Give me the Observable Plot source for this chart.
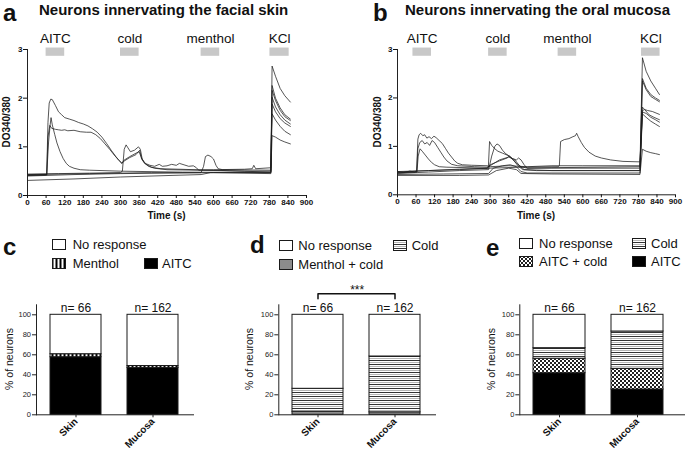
<!DOCTYPE html>
<html><head><meta charset="utf-8">
<script src="https://cdn.jsdelivr.net/npm/d3@7"></script>
<script src="https://cdn.jsdelivr.net/npm/@observablehq/plot@0.6"></script>
<style>
body{margin:0;background:#fff;font-family:"Liberation Sans",Arial,sans-serif;color:#111;}
#fig{position:relative;width:685px;height:456px;overflow:hidden;background:#fff;}
.abs{position:absolute;white-space:nowrap;line-height:1;}
.letter{font-weight:bold;font-size:24px;}
.title{font-weight:bold;font-size:15px;}
.leg{font-size:13px;}
.rot{transform:translate(-50%,-50%) rotate(-90deg);}
.panel{position:absolute;}
</style></head><body>
<svg width="0" height="0" style="position:absolute"><defs>
<pattern id="pMenthol" patternUnits="userSpaceOnUse" width="4" height="4"><rect width="4" height="4" fill="#000"/><rect x="1.5" width="2" height="4" fill="#fff"/></pattern>
<pattern id="pCold" patternUnits="userSpaceOnUse" width="4" height="4"><rect width="4" height="4" fill="#fff"/><rect y="0" width="4" height="1" fill="#333"/><rect y="2" width="4" height="1" fill="#b5b5b5"/></pattern>
<pattern id="pCheck" patternUnits="userSpaceOnUse" width="4" height="4"><rect width="4" height="4" fill="#fff"/><rect width="2" height="2" fill="#222"/><rect x="2" y="2" width="2" height="2" fill="#222"/></pattern>
</defs></svg>
<div id="fig"></div>
<script>
// ---------- data ----------
const timeTicks = [0,60,120,180,240,300,360,420,480,540,600,660,720,780,840,900];
const ratioTicks = [0,1,2,3];
const pctTicks = [0,20,40,60,80,100];
const stimNames = ["AITC","cold","menthol","KCl"];
const skinStimStart = [60,300,560,782];
const skinStimEnd = [120,360,620,844];
const mucosaStimStart = [50,295,520,790];
const mucosaStimEnd = [110,355,580,850];

// Panel a traces [time (s), ratio]
const skinTrace1 = [[0,0.42],[30,0.42],[62,0.43],[66,1.5],[70,1.9],[75,1.98],[80,1.97],[90,1.85],[100,1.72],[110,1.66],[120,1.6],[135,1.57],[150,1.54],[165,1.5],[180,1.47],[195,1.43],[210,1.37],[225,1.3],[240,1.2],[255,1.07],[270,0.93],[285,0.8],[298,0.7],[305,0.66],[310,0.72],[330,0.8],[350,0.87],[360,0.9],[366,0.8],[375,0.68],[390,0.6],[410,0.56],[450,0.53],[550,0.52],[700,0.5],[785,0.5],[789,2.66],[800,2.45],[815,2.2],[830,2.05],[848,1.92]];
const skinTrace2 = [[0,0.41],[62,0.42],[66,1.2],[72,1.44],[78,1.38],[90,1.36],[100,1.35],[110,1.34],[120,1.35],[130,1.33],[150,1.34],[170,1.31],[190,1.3],[205,1.3],[220,1.25],[235,1.17],[250,1.06],[265,0.95],[280,0.83],[295,0.72],[305,0.66],[310,0.7],[330,0.78],[350,0.84],[362,0.93],[368,0.75],[380,0.65],[400,0.58],[430,0.55],[600,0.52],[785,0.48],[789,2.26],[800,2.0],[815,1.8],[830,1.66],[848,1.57]];
const skinTrace3 = [[0,0.42],[62,0.43],[68,1.1],[73,1.45],[76,1.6],[80,1.45],[88,1.25],[95,1.08],[105,0.9],[115,0.76],[125,0.66],[135,0.6],[150,0.56],[170,0.53],[200,0.52],[300,0.5],[500,0.48],[785,0.47],[789,2.16],[800,1.95],[815,1.75],[830,1.62],[848,1.54]];
const skinTrace4 = [[0,0.44],[100,0.45],[200,0.46],[300,0.47],[306,0.5],[312,0.95],[318,1.04],[324,0.98],[332,0.9],[345,0.93],[358,1.0],[364,0.95],[370,0.75],[380,0.66],[395,0.62],[410,0.6],[425,0.64],[435,0.6],[450,0.61],[465,0.64],[480,0.62],[490,0.66],[505,0.63],[520,0.6],[535,0.61],[545,0.57],[552,0.52],[600,0.53],[700,0.54],[725,0.55],[730,0.62],[736,0.55],[785,0.57],[789,2.02],[800,1.82],[815,1.66],[830,1.55],[848,1.47]];
const skinTrace5 = [[0,0.43],[200,0.45],[400,0.47],[560,0.47],[568,0.6],[574,0.8],[582,0.83],[592,0.8],[600,0.75],[608,0.62],[615,0.55],[630,0.53],[785,0.52],[789,1.88],[800,1.72],[815,1.58],[830,1.49],[848,1.42]];
const skinTrace6 = [[0,0.4],[150,0.43],[300,0.45],[450,0.46],[600,0.47],[785,0.45],[789,1.68],[800,1.55],[815,1.42],[830,1.32],[848,1.25]];
const skinTrace7 = [[0,0.31],[150,0.34],[300,0.38],[450,0.41],[560,0.43],[590,0.47],[785,0.47],[789,1.23],[800,1.2],[815,1.14],[830,1.1],[848,1.06]];

// Panel b traces
const mucosaTrace1 = [[0,0.48],[20,0.46],[40,0.49],[55,0.47],[62,0.5],[66,1.15],[70,1.24],[75,1.27],[82,1.22],[88,1.24],[95,1.17],[102,1.2],[110,1.16],[118,1.21],[125,1.18],[135,1.12],[145,1.06],[155,0.96],[165,0.86],[175,0.78],[185,0.7],[195,0.65],[210,0.62],[240,0.61],[290,0.6],[300,0.58],[360,0.6],[420,0.58],[500,0.6],[600,0.6],[785,0.6],[793,2.83],[805,2.55],[820,2.35],[835,2.2],[848,2.07]];
const mucosaTrace2 = [[0,0.45],[62,0.47],[66,0.95],[72,1.08],[80,1.12],[88,1.05],[96,1.08],[104,1.02],[112,1.12],[120,1.08],[130,0.98],[140,0.88],[150,0.78],[160,0.7],[175,0.63],[195,0.6],[250,0.58],[290,0.57],[300,0.6],[330,0.72],[360,0.78],[380,0.72],[395,0.6],[410,0.52],[500,0.5],[785,0.5],[793,2.4],[805,2.2],[820,2.07],[835,2.0],[848,1.95]];
const mucosaTrace3 = [[0,0.46],[63,0.47],[67,0.8],[73,0.95],[80,0.9],[90,0.82],[100,0.74],[110,0.67],[120,0.62],[135,0.58],[160,0.57],[290,0.55],[300,0.62],[330,0.7],[355,0.76],[362,0.8],[372,0.75],[385,0.72],[392,0.76],[400,0.72],[410,0.62],[420,0.55],[500,0.55],[785,0.55],[793,2.35],[805,2.17],[820,2.03],[835,1.97],[848,1.92]];
const mucosaTrace4 = [[0,0.47],[100,0.5],[200,0.53],[294,0.55],[298,1.1],[305,1.02],[315,0.95],[325,0.9],[340,0.86],[355,0.82],[365,0.78],[375,0.72],[385,0.65],[400,0.58],[420,0.55],[500,0.56],[785,0.58],[793,1.81],[800,1.76],[810,1.74],[825,1.72],[848,1.66]];
const mucosaTrace5 = [[0,0.44],[100,0.47],[200,0.5],[295,0.52],[305,0.8],[315,1.0],[322,1.05],[330,1.02],[340,0.92],[350,0.85],[362,0.8],[375,0.72],[390,0.6],[405,0.52],[450,0.5],[785,0.5],[793,1.74],[800,1.76],[815,1.65],[830,1.6],[848,1.55]];
const mucosaTrace6 = [[0,0.48],[100,0.5],[200,0.52],[300,0.55],[400,0.57],[520,0.58],[524,0.6],[528,1.1],[540,1.14],[555,1.16],[568,1.2],[576,1.22],[580,1.27],[585,1.2],[595,1.08],[605,0.98],[620,0.88],[640,0.8],[660,0.76],[690,0.72],[730,0.69],[785,0.68],[793,1.71],[805,1.68],[820,1.6],[835,1.55],[848,1.5]];
const mucosaTrace7 = [[0,0.42],[150,0.43],[295,0.44],[310,0.55],[340,0.6],[365,0.62],[385,0.58],[400,0.48],[420,0.45],[785,0.45],[793,1.67],[805,1.6],[820,1.52],[835,1.46],[848,1.41]];
const mucosaTrace8 = [[0,0.4],[200,0.4],[295,0.41],[320,0.5],[360,0.55],[385,0.52],[400,0.44],[500,0.43],[785,0.42],[793,0.94],[805,0.9],[820,0.87],[835,0.85],[848,0.83]];

// Bar panels (% of neurons)
const regions = ["Skin","Mucosa"];
const nNeurons = [66,162];
const cCategories = ["AITC","Menthol","No response"];
const cSkin = [57.6,3.0,39.4];
const cMucosa = [46.9,1.9,51.2];
const dCategories = ["Menthol + cold","Cold","No response"];
const dSkin = [3.0,23.0,74.0];
const dMucosa = [2.5,55.8,41.7];
const eCategories = ["AITC","AITC + cold","Cold","No response"];
const eSkin = [41.6,14.5,10.5,33.4];
const eMucosa = [25.3,20.7,37.3,16.7];
const significance = "***";

// ---------- styles ----------
const FONT = '"Liberation Sans", Arial, sans-serif';
const catFill = {
  "No response": "#fff",
  "AITC": "#000",
  "Menthol": "url(#pMenthol)",
  "Cold": "url(#pCold)",
  "Menthol + cold": "#8c8c8c",
  "AITC + cold": "url(#pCheck)"
};

const fig = document.getElementById("fig");
function place(el, left, top) {
  el.classList.add("panel");
  el.style.left = left + "px";
  el.style.top = top + "px";
  fig.appendChild(el);
}
function label(text, left, top, cls, extra) {
  const d = document.createElement("div");
  d.className = "abs " + (cls || "");
  d.textContent = text;
  d.style.left = left + "px";
  d.style.top = top + "px";
  if (extra) Object.assign(d.style, extra);
  fig.appendChild(d);
  return d;
}

function tracePlot(traces, stimStart, stimEnd, width, mLeft, mRight, mBottom) {
  const rows = traces.flatMap((tr, i) => tr.map(([t, v]) => ({id: i, t, v})));
  const stim = stimNames.map((name, i) => ({name, start: stimStart[i], end: stimEnd[i]}));
  return Plot.plot({
    width, height: 220,
    marginLeft: mLeft, marginRight: mRight, marginTop: 49, marginBottom: mBottom,
    style: {fontFamily: FONT, background: "transparent", overflow: "visible", color: "#111"},
    x: {domain: [0, 900]},
    y: {domain: [0, 3]},
    marks: [
      Plot.rect(stim, {x1: "start", x2: "end", y1: 2.86, y2: 3.03, fill: "#c8c8c8"}),
      Plot.text(stim, {x: d => (d.start + d.end) / 2, y: 3.13, text: "name", lineAnchor: "bottom", fontSize: 13.5, fill: "#111"}),
      Plot.line(rows, {x: "t", y: "v", z: "id", stroke: "#1e1e1e", strokeWidth: 0.75}),
      Plot.ruleX([0], {stroke: "#222", strokeWidth: 1}),
      Plot.ruleY([0], {stroke: "#222", strokeWidth: 1}),
      Plot.axisX({ticks: timeTicks, tickFormat: d3.format("d"), tickSize: 3, tickPadding: 1, fontSize: 8, fontWeight: "bold", label: null}),
      Plot.axisY({ticks: ratioTicks, tickFormat: d3.format("d"), tickSize: 4, tickPadding: 1, fontSize: 8, fontWeight: "bold", label: null})
    ]
  });
}

function barPlot(cats, skinVals, mucosaVals, width, mLeft, mRight, align, extra) {
  const rows = [];
  regions.forEach((r, j) => cats.forEach((c, i) => rows.push({region: r, cat: c, pct: (j ? mucosaVals : skinVals)[i]})));
  const nRows = regions.map((r, i) => ({region: r, n: nNeurons[i]}));
  return Plot.plot({
    width, height: 236,
    marginLeft: mLeft, marginRight: mRight, marginTop: 84.3, marginBottom: 41.7,
    style: {fontFamily: FONT, background: "transparent", overflow: "visible", color: "#222"},
    x: {type: "band", domain: regions, paddingInner: 0.333, paddingOuter: align == null ? 0.173 : 0.222, align: align == null ? 0.5 : align},
    y: {domain: [0, 110]},
    color: {type: "identity"},
    marks: [
      Plot.barY(rows, {x: "region", y: "pct", z: "cat", fill: d => catFill[d.cat], stroke: "#1a1a1a", strokeWidth: 1}),
      Plot.text(nRows, {x: "region", y: 100, text: d => "n= " + d.n, lineAnchor: "bottom", dy: -3, fontSize: 12, fill: "#111"}),
      Plot.frame({anchor: "left", stroke: "#222"}),
      Plot.frame({anchor: "bottom", stroke: "#222"}),
      Plot.axisY({ticks: pctTicks, tickFormat: d3.format("d"), tickSize: 4, tickPadding: 1.5, fontSize: 7.5, label: null}),
      Plot.axisX({tickSize: 3, tickPadding: 2, tickRotate: -45, fontSize: 10, fontWeight: "bold", label: null, fill: "#111"}),
      ...(extra || [])
    ]
  });
}

// ---------- panels a & b ----------
place(tracePlot([skinTrace1, skinTrace2, skinTrace3, skinTrace4, skinTrace5, skinTrace6, skinTrace7],
  skinStimStart, skinStimEnd, 340, 27, 34, 25), 0, 0);
place(tracePlot([mucosaTrace1, mucosaTrace2, mucosaTrace3, mucosaTrace4, mucosaTrace5, mucosaTrace6, mucosaTrace7, mucosaTrace8],
  mucosaStimStart, mucosaStimEnd, 345, 57, 10, 25.7), 340, 0);

// ---------- panels c, d, e ----------
place(barPlot(cCategories, cSkin, cMucosa, 230, 36, 37), 0, 220);
const bracket = [{region: "Skin", y: 116}, {region: "Skin", y: 121}, {region: "Mucosa", y: 121}, {region: "Mucosa", y: 116}];
place(barPlot(dCategories, dSkin, dMucosa, 230, 48.3, 25, null, [
  Plot.line(bracket, {x: "region", y: "y", stroke: "#111", strokeWidth: 1.5}),
  Plot.text([significance], {frameAnchor: "middle", y: 121, text: d => d, lineAnchor: "bottom", dy: 0, fontSize: 12, fill: "#111"})
]), 230, 220);
place(barPlot(eCategories, eSkin, eMucosa, 225, 59.3, 1, 0.389), 460, 220);

// ---------- titles, letters, axis titles ----------
label("a", 3, 1.4, "letter");
label("b", 373, 1.4, "letter");
label("c", 3, 234.7, "letter");
label("d", 250, 233, "letter");
label("e", 486, 236.4, "letter");
label("Neurons innervating the facial skin", 39, 2.3, "title");
label("Neurons innervating the oral mucosa", 405, 2.3, "title");
label("DO340/380", 6.5, 122, "rot", {fontWeight: "bold", fontSize: "10px"});
label("DO340/380", 378, 122, "rot", {fontWeight: "bold", fontSize: "10px"});
label("Time (s)", 166.5, 210.5, "", {fontWeight: "bold", fontSize: "10px", transform: "translateX(-50%)"});
label("Time (s)", 536, 210.5, "", {fontWeight: "bold", fontSize: "10px", transform: "translateX(-50%)"});
label("% of neurons", 9, 359, "rot", {fontSize: "10.5px"});
label("% of neurons", 249, 359, "rot", {fontSize: "10.5px"});
label("% of neurons", 491, 359, "rot", {fontSize: "10.5px"});

// ---------- legends ----------
function legendItem(boxX, textX, cy, cat) {
  const ns = "http://www.w3.org/2000/svg";
  const s = document.createElementNS(ns, "svg");
  s.setAttribute("width", 14); s.setAttribute("height", 11);
  s.style.position = "absolute"; s.style.left = boxX + "px"; s.style.top = (cy - 5.5) + "px";
  const r = document.createElementNS(ns, "rect");
  r.setAttribute("x", 0.5); r.setAttribute("y", 0.5); r.setAttribute("width", 13); r.setAttribute("height", 10);
  r.setAttribute("fill", catFill[cat]); r.setAttribute("stroke", "#1a1a1a");
  s.appendChild(r); fig.appendChild(s);
  label(cat, textX, cy - 6.3, "leg");
}
legendItem(52, 72.7, 244, "No response");
legendItem(52, 72.7, 263.5, "Menthol");
legendItem(144, 162, 263.5, "AITC");
legendItem(279.3, 298.3, 245, "No response");
legendItem(393.3, 411.7, 245, "Cold");
legendItem(279.3, 298.3, 264, "Menthol + cold");
legendItem(519.3, 539, 243.3, "No response");
legendItem(631.7, 651, 243.3, "Cold");
legendItem(519.3, 539, 261.7, "AITC + cold");
legendItem(631.7, 651, 261.7, "AITC");
</script>
</body></html>
